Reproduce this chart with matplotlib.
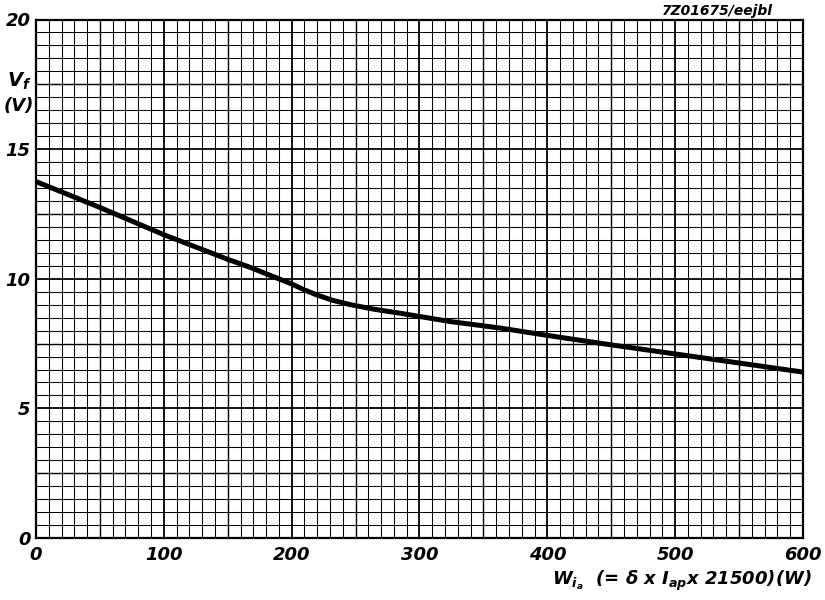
import numpy as np
import matplotlib
matplotlib.use("Agg")
import matplotlib.pyplot as plt
from matplotlib.ticker import MultipleLocator

# curve
w_ia = [0, 50, 100, 150, 167, 200, 210, 220, 232, 246, 265, 285, 324, 363, 402, 450, 500, 550, 600]
v_f = [13.75, 12.75, 11.7, 10.75, 10.45, 9.8, 9.57, 9.37, 9.17, 9.0, 8.82, 8.67, 8.35, 8.1, 7.8, 7.45, 7.1, 6.75, 6.4]

x_ticks = [0, 100, 200, 300, 400, 500, 600]
y_ticks = [0, 5, 10, 15, 20]

plt.rcParams["font.family"] = ["DejaVu Sans"]
plt.rcParams["mathtext.fontset"] = "custom"
plt.rcParams["mathtext.it"] = "DejaVu Sans:italic:bold"
plt.rcParams["mathtext.rm"] = "DejaVu Sans:italic:bold"

fig = plt.figure(figsize=(8.25, 6), dpi=100)
ax = fig.add_axes([0.0436, 0.1033, 0.9297, 0.8642])

ax.set_xlim(0, 600)
ax.set_ylim(0, 20)

# graph paper grid
ax.xaxis.set_minor_locator(MultipleLocator(10))
ax.yaxis.set_minor_locator(MultipleLocator(0.5))
ax.set_xticks(x_ticks)
ax.set_yticks(y_ticks)
ax.grid(which="minor", color="black", lw=0.75)
ax.grid(which="major", color="black", lw=1.3)
ax.vlines(np.arange(50, 600, 100), 0, 20, color="black", lw=1.0)
ax.hlines(np.arange(2.5, 20, 5), 0, 600, color="black", lw=1.0)
ax.set_axisbelow(True)
for s in ax.spines.values():
    s.set_linewidth(1.6)

ax.plot(w_ia, v_f, color="black", lw=3.6, solid_capstyle="butt")

ax.tick_params(which="both", length=0)
ax.set_xticklabels([str(t) for t in x_ticks], fontsize=13, style="italic", weight="bold")
ax.set_yticklabels([str(t) for t in y_ticks], fontsize=13, style="italic", weight="bold")
ax.tick_params(axis="x", pad=6)
ax.tick_params(axis="y", pad=4)

fig.text(0.008, 0.855, r"$V_f$", fontsize=14)
fig.text(0.004, 0.815, "(V)", fontsize=13, style="italic", weight="bold")
fig.text(0.984, 0.025, r"$W_{i_a}$  (= $\delta$ x $I_{ap}$x 21500)(W)",
         fontsize=13, style="italic", weight="bold", ha="right")
fig.text(0.937, 0.975, "7Z01675/eejbl", fontsize=10, style="italic", weight="bold", ha="right")

fig.savefig("out.png", dpi=100)
